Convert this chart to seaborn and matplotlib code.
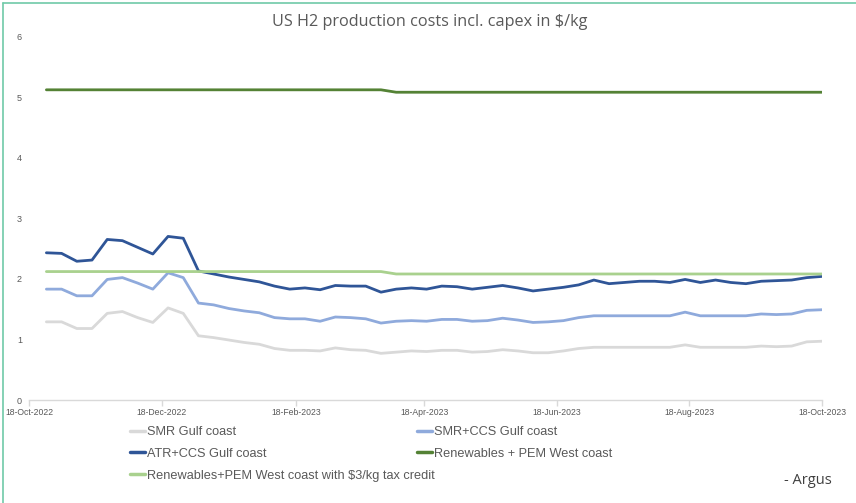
import matplotlib
matplotlib.use("Agg")
import matplotlib.pyplot as plt
import matplotlib.dates as mdates
from matplotlib.lines import Line2D
import pandas as pd
import seaborn as sns

sns.set_theme(style="white")
plt.rcParams['font.family'] = ['Liberation Sans', 'DejaVu Sans']

# ---- data (weekly) ----
dates = pd.date_range("2022-10-26", periods=52, freq="7D")

smr_gulf = [1.29, 1.29, 1.18, 1.18, 1.43, 1.46, 1.36, 1.28, 1.52, 1.43,
            1.06, 1.03, 0.99, 0.95, 0.92, 0.85, 0.82, 0.82, 0.81, 0.86,
            0.83, 0.82, 0.77, 0.79, 0.81, 0.80, 0.82, 0.82, 0.79, 0.80,
            0.83, 0.81, 0.78, 0.78, 0.81, 0.85, 0.87, 0.87, 0.87, 0.87,
            0.87, 0.87, 0.91, 0.87, 0.87, 0.87, 0.87, 0.89, 0.88, 0.89,
            0.96, 0.97]
smr_ccs = [1.83, 1.83, 1.72, 1.72, 1.99, 2.02, 1.93, 1.83, 2.10, 2.02,
           1.60, 1.57, 1.51, 1.47, 1.44, 1.36, 1.34, 1.34, 1.30, 1.37,
           1.36, 1.34, 1.27, 1.30, 1.31, 1.30, 1.33, 1.33, 1.30, 1.31,
           1.35, 1.32, 1.28, 1.29, 1.31, 1.36, 1.39, 1.39, 1.39, 1.39,
           1.39, 1.39, 1.45, 1.39, 1.39, 1.39, 1.39, 1.42, 1.41, 1.42,
           1.48, 1.49]
atr_ccs = [2.43, 2.42, 2.29, 2.31, 2.65, 2.63, 2.52, 2.41, 2.70, 2.67,
           2.13, 2.08, 2.03, 1.99, 1.95, 1.88, 1.83, 1.85, 1.82, 1.89,
           1.88, 1.88, 1.78, 1.83, 1.85, 1.83, 1.88, 1.87, 1.83, 1.86,
           1.89, 1.85, 1.80, 1.83, 1.86, 1.90, 1.98, 1.92, 1.94, 1.96,
           1.96, 1.94, 1.99, 1.94, 1.98, 1.94, 1.92, 1.96, 1.97, 1.98,
           2.02, 2.04]
pem_west = [5.12, 5.12, 5.12, 5.12, 5.12, 5.12, 5.12, 5.12, 5.12, 5.12,
            5.12, 5.12, 5.12, 5.12, 5.12, 5.12, 5.12, 5.12, 5.12, 5.12,
            5.12, 5.12, 5.12, 5.08, 5.08, 5.08, 5.08, 5.08, 5.08, 5.08,
            5.08, 5.08, 5.08, 5.08, 5.08, 5.08, 5.08, 5.08, 5.08, 5.08,
            5.08, 5.08, 5.08, 5.08, 5.08, 5.08, 5.08, 5.08, 5.08, 5.08,
            5.08, 5.08]
pem_west_credit = [2.12, 2.12, 2.12, 2.12, 2.12, 2.12, 2.12, 2.12, 2.12, 2.12,
                   2.12, 2.12, 2.12, 2.12, 2.12, 2.12, 2.12, 2.12, 2.12, 2.12,
                   2.12, 2.12, 2.12, 2.08, 2.08, 2.08, 2.08, 2.08, 2.08, 2.08,
                   2.08, 2.08, 2.08, 2.08, 2.08, 2.08, 2.08, 2.08, 2.08, 2.08,
                   2.08, 2.08, 2.08, 2.08, 2.08, 2.08, 2.08, 2.08, 2.08, 2.08,
                   2.08, 2.08]

series_names = ["SMR Gulf coast", "SMR+CCS Gulf coast", "ATR+CCS Gulf coast",
                "Renewables + PEM West coast",
                "Renewables+PEM West coast with $3/kg tax credit"]
series_values = [smr_gulf, smr_ccs, atr_ccs, pem_west, pem_west_credit]
colors = ["#d9d9d9", "#8faadc", "#2f5597", "#548235", "#a9d18e"]
tick_dates = ["2022-10-18", "2022-12-18", "2023-02-18", "2023-04-18",
              "2023-06-18", "2023-08-18", "2023-10-18"]
y_ticks = [0, 1, 2, 3, 4, 5, 6]

frames = []
for name, vals in zip(series_names, series_values):
    assert len(vals) == len(dates)
    frames.append(pd.DataFrame({"date": dates, "value": vals, "series": name}))
df = pd.concat(frames, ignore_index=True)
palette = dict(zip(series_names, colors))

W, H = 856, 503
fig = plt.figure(figsize=(W / 100, H / 100), dpi=100)
ax = fig.add_axes([29 / W, 1 - 400 / H, (822 - 29) / W, (400 - 36.5) / H])

sns.lineplot(data=df, x="date", y="value", hue="series", hue_order=series_names,
             palette=palette, linewidth=2.0, legend=False, ax=ax)

ax.set_ylim(0, 6)
ax.set_xlim(pd.Timestamp(tick_dates[0]), pd.Timestamp(tick_dates[-1]))
ax.set_yticks(y_ticks)
ax.set_xticks([pd.Timestamp(d) for d in tick_dates])
ax.xaxis.set_major_formatter(mdates.DateFormatter("%d-%b-%Y"))
ax.set_xlabel("")
ax.set_ylabel("")
ax.grid(False)
for s in ["top", "right", "left"]:
    ax.spines[s].set_visible(False)
ax.spines["bottom"].set_color("#d9d9d9")
ax.spines["bottom"].set_linewidth(1.0)
ax.tick_params(axis="x", which="major", length=4, width=1, color="#d9d9d9",
               labelsize=6.2, labelcolor="#595959", pad=2, bottom=True)
ax.tick_params(axis="y", length=0, labelsize=6.5, labelcolor="#595959", pad=5)

fig.text(430 / W, 1 - 22 / H, "US H2 production costs incl. capex in $/kg",
         ha="center", va="center", fontsize=11.7, color="#595959",
         family=['Open Sans', 'DejaVu Sans'])

handles = [Line2D([], [], color=c, lw=2.5) for c in colors]
leg_kw = dict(frameon=False, fontsize=9.2, handlelength=1.2, handletextpad=0.15,
              labelspacing=0.78, borderpad=0, borderaxespad=0,
              labelcolor="#595959", loc="upper left")
leg1 = fig.legend([handles[0], handles[2], handles[4]],
                  [series_names[0], series_names[2], series_names[4]],
                  bbox_to_anchor=(130 / W, 1 - 426 / H), **leg_kw)
leg2 = fig.legend([handles[1], handles[3]],
                  [series_names[1], series_names[3]],
                  bbox_to_anchor=(417 / W, 1 - 426 / H), **leg_kw)

fig.text(832 / W, 1 - 481 / H, "- Argus", ha="right", va="center",
         fontsize=10.5, color="#404040", family=['Open Sans', 'DejaVu Sans'])

# light teal frame (left and top)
frame_c = "#6fcaa8"
fig.add_artist(Line2D([2.5 / W, 2.5 / W], [0, 1 - 3 / H], transform=fig.transFigure,
                      color=frame_c, lw=1.2))
fig.add_artist(Line2D([2.5 / W, 1], [1 - 3 / H, 1 - 3 / H], transform=fig.transFigure,
                      color=frame_c, lw=1.2))

fig.savefig("out.png", dpi=100, facecolor="white")
